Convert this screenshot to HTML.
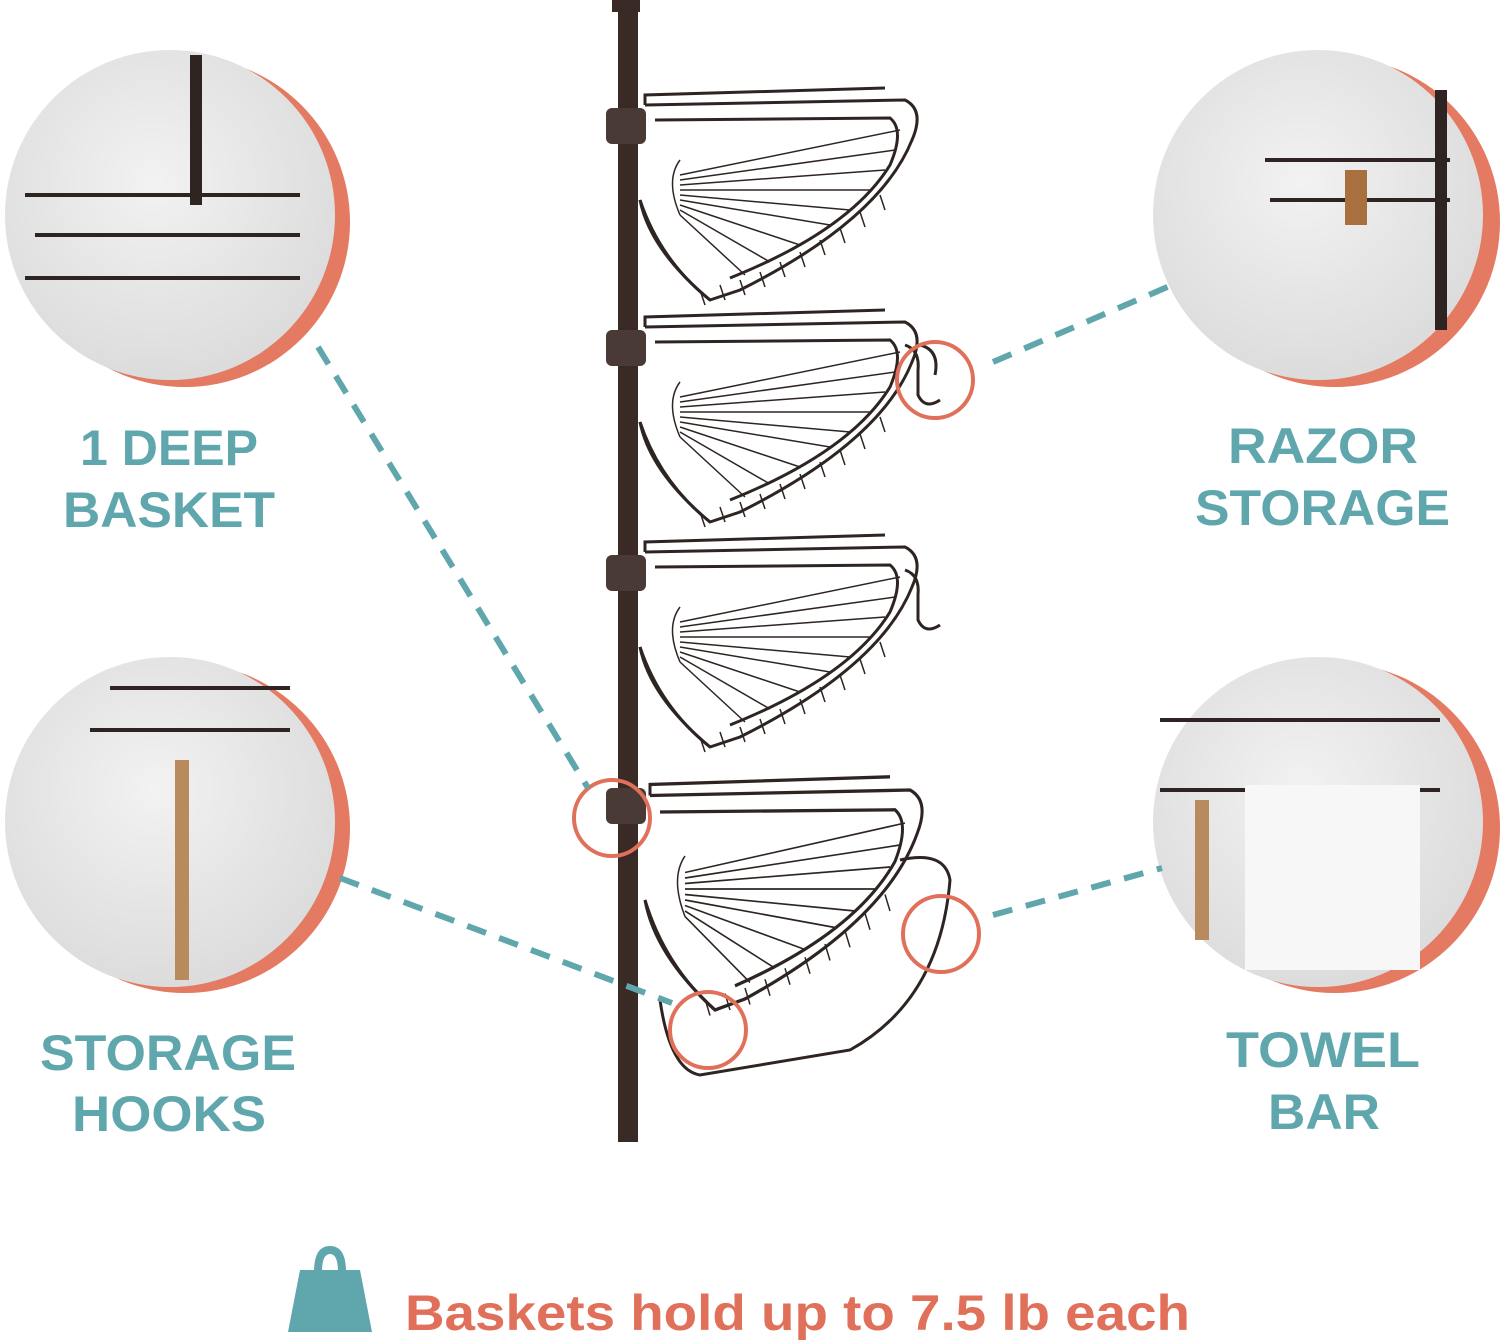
<!DOCTYPE html>
<html><head><meta charset="utf-8"><style>
html,body{margin:0;padding:0;background:#fff;}
svg{display:block}
text{font-family:"Liberation Sans",sans-serif;font-weight:bold}
</style></head><body>
<svg width="1500" height="1340" viewBox="0 0 1500 1340" xmlns="http://www.w3.org/2000/svg">
<defs>
<radialGradient id="g" cx="45%" cy="40%" r="60%"><stop offset="0" stop-color="#f2f2f2"/><stop offset="1" stop-color="#dcdcdc"/></radialGradient>
<g id="basket" fill="none" stroke="#2e2522" stroke-width="3">
<path d="M645 105 L905 100 Q925 110 912 140 Q880 220 740 290 L710 300 Q660 260 640 200"/>
<path d="M655 120 L890 118 Q905 130 890 165 Q850 230 730 278"/>
<path d="M640 200 Q650 250 710 300"/>
<path d="M645 105 L645 95 L885 88"/>
<g stroke-width="1.5">
<path d="M680 175 L900 130 M680 180 L895 150 M680 185 L885 170 M680 190 L870 190 M680 195 L850 210 M680 200 L830 225 M680 205 L800 245 M680 210 L770 262 M680 215 L745 275"/>
<path d="M680 160 Q665 180 680 215"/>
<path d="M700 290 L705 305 M720 285 L725 300 M740 280 L745 295 M760 272 L765 287 M780 262 L785 277 M800 252 L805 267 M820 240 L825 255 M840 228 L845 243 M860 212 L865 227 M880 195 L885 210"/>
</g>
</g>
</defs>

<circle cx="185" cy="222" r="165" fill="#e47a62"/>
<circle cx="170" cy="215" r="165" fill="url(#g)"/>
<circle cx="1335" cy="222" r="165" fill="#e47a62"/>
<circle cx="1318" cy="215" r="165" fill="url(#g)"/>
<circle cx="185" cy="828" r="165" fill="#e47a62"/>
<circle cx="170" cy="822" r="165" fill="url(#g)"/>
<circle cx="1335" cy="828" r="165" fill="#e47a62"/>
<circle cx="1318" cy="822" r="165" fill="url(#g)"/>

<g fill="none" stroke="#2e2522" stroke-width="4">
<path d="M25 195 H300 M35 235 H300 M25 278 H300"/>
<path d="M1265 160 H1450 M1270 200 H1450"/>
<path d="M110 688 H290 M90 730 H290"/>
<path d="M1160 720 H1440 M1160 790 H1440"/>
</g>
<rect x="190" y="55" width="12" height="150" fill="#2e2522"/>
<rect x="1435" y="90" width="12" height="240" fill="#2e2522"/>
<rect x="175" y="760" width="14" height="220" fill="#b98a5e"/>
<rect x="1195" y="800" width="14" height="140" fill="#b98a5e"/>
<rect x="1245" y="785" width="175" height="185" fill="#f7f7f7"/>
<rect x="1345" y="170" width="22" height="55" fill="#a8703e"/>

<g fill="#5fa7ad" font-size="50" lengthAdjust="spacingAndGlyphs">
<text x="80" y="465" textLength="178" lengthAdjust="spacingAndGlyphs">1 DEEP</text>
<text x="63" y="527" textLength="212" lengthAdjust="spacingAndGlyphs">BASKET</text>
<text x="1228" y="463" textLength="190" lengthAdjust="spacingAndGlyphs">RAZOR</text>
<text x="1195" y="525" textLength="255" lengthAdjust="spacingAndGlyphs">STORAGE</text>
<text x="40" y="1070" textLength="256" lengthAdjust="spacingAndGlyphs">STORAGE</text>
<text x="72" y="1131" textLength="194" lengthAdjust="spacingAndGlyphs">HOOKS</text>
<text x="1226" y="1067" textLength="194" lengthAdjust="spacingAndGlyphs">TOWEL</text>
<text x="1268" y="1129" textLength="112" lengthAdjust="spacingAndGlyphs">BAR</text>
</g>

<rect x="618" y="0" width="20" height="1142" fill="#3a2a26"/>
<rect x="612" y="0" width="28" height="12" fill="#3a2a26"/>
<g fill="#4a3a35">
<rect x="606" y="108" width="40" height="36" rx="6"/>
<rect x="606" y="330" width="40" height="36" rx="6"/>
<rect x="606" y="555" width="40" height="36" rx="6"/>
<rect x="606" y="788" width="40" height="36" rx="6"/>
</g>

<use href="#basket"/>
<use href="#basket" transform="translate(0,222)"/>
<use href="#basket" transform="translate(0,447)"/>
<use href="#basket" transform="translate(5,680) scale(1,1.1)"/>
<path d="M660 1000 Q670 1070 700 1075 L850 1050 Q940 1000 950 880 Q945 850 900 860" fill="none" stroke="#2e2522" stroke-width="3"/>
<g fill="none" stroke="#2e2522" stroke-width="3">
<path d="M905 345 Q920 350 918 370 L918 395 Q925 410 940 400"/>
<path d="M920 345 Q940 350 935 375"/>
<path d="M905 570 Q920 575 918 595 L918 620 Q925 635 940 625"/>
</g>

<g fill="none" stroke="#e0705a" stroke-width="4">
<circle cx="935" cy="380" r="38"/>
<circle cx="612" cy="818" r="38"/>
<circle cx="941" cy="934" r="38"/>
<circle cx="708" cy="1030" r="38"/>
</g>

<g stroke="#5fa7ad" stroke-width="6" stroke-dasharray="20,14" fill="none">
<line x1="318" y1="347" x2="588" y2="788"/>
<line x1="340" y1="878" x2="672" y2="1003"/>
<line x1="993" y1="362" x2="1172" y2="285"/>
<line x1="993" y1="915" x2="1162" y2="868"/>
</g>

<path d="M300 1270 H360 L372 1332 H288 Z" fill="#5fa7ad"/>
<path d="M318 1272 Q318 1250 330 1250 Q342 1250 342 1272" fill="none" stroke="#5fa7ad" stroke-width="8"/>
<text x="405" y="1330" font-size="50" fill="#e0705a" textLength="785" lengthAdjust="spacingAndGlyphs">Baskets hold up to 7.5 lb each</text>
</svg>
</body></html>
